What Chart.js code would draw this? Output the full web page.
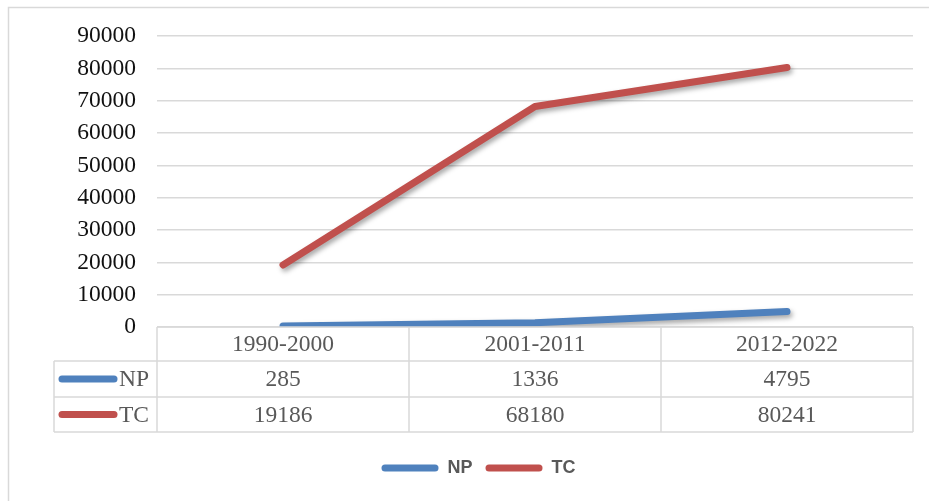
<!DOCTYPE html>
<html>
<head>
<meta charset="utf-8">
<script src="https://cdn.jsdelivr.net/npm/chart.js@4.4.1/dist/chart.umd.min.js"></script>
<style>
  html, body { margin: 0; padding: 0; background: #fff; }
  #wrap { width: 929px; height: 501px; }
</style>
</head>
<body>
<div id="wrap"><canvas id="chart" width="929" height="501"></canvas></div>
<script>
// Data
const periods = ['1990-2000', '2001-2011', '2012-2022'];
const npValues = [285, 1336, 4795];
const tcValues = [19186, 68180, 80241];
const yTicks = [0, 10000, 20000, 30000, 40000, 50000, 60000, 70000, 80000, 90000];

const BLUE = '#4f81bd';
const RED = '#c0504d';
const GRID = '#d9d9d9';
const SERIF = '"Liberation Serif", "Times New Roman", serif';

// Outer frame of the figure
const framePlugin = {
    id: 'frame',
    beforeDraw(chart) {
        const ctx = chart.ctx;
        ctx.save();
        ctx.strokeStyle = GRID;
        ctx.lineWidth = 1.5;
        ctx.strokeRect(8.5, 7.5, 2000, 2000);
        ctx.restore();
    }
};

// Soft drop shadow under the lines
const shadowPlugin = {
    id: 'lineShadow',
    beforeDatasetsDraw(chart) {
        const ctx = chart.ctx;
        ctx.save();
        ctx.shadowColor = 'rgba(0,0,0,0.35)';
        ctx.shadowBlur = 5;
        ctx.shadowOffsetX = 2;
        ctx.shadowOffsetY = 3;
    },
    afterDatasetsDraw(chart) {
        chart.ctx.restore();
    }
};

// Data table under the plot, columns taken from the x scale
const tablePlugin = {
    id: 'dataTable',
    afterDraw(chart) {
        const ctx = chart.ctx;
        const xs = chart.scales.x;
        const area = chart.chartArea;
        const step = xs.getPixelForValue(1) - xs.getPixelForValue(0);
        const left = area.left;
        const right = area.right;
        const labelLeft = 54;
        const rowH = [34, 36, 35];
        const y0 = area.bottom;
        const y1 = y0 + rowH[0];
        const y2 = y1 + rowH[1];
        const y3 = y2 + rowH[2];

        ctx.save();
        ctx.strokeStyle = GRID;
        ctx.lineWidth = 1.5;
        ctx.beginPath();
        ctx.moveTo(left, y0); ctx.lineTo(right, y0);
        [y1, y2, y3].forEach(y => { ctx.moveTo(labelLeft, y); ctx.lineTo(right, y); });
        ctx.moveTo(labelLeft, y1); ctx.lineTo(labelLeft, y3);
        for (let i = 0; i <= periods.length; i++) {
            const x = i < periods.length ? xs.getPixelForValue(i) - step / 2 : right;
            ctx.moveTo(x, y0); ctx.lineTo(x, y3);
        }
        ctx.stroke();

        ctx.fillStyle = '#595959';
        ctx.font = '23.5px ' + SERIF;
        ctx.textAlign = 'center';
        ctx.textBaseline = 'middle';
        periods.forEach((p, i) => {
            const x = xs.getPixelForValue(i);
            ctx.fillText(p, x, (y0 + y1) / 2 + 1);
            ctx.fillText(String(npValues[i]), x, (y1 + y2) / 2 + 1);
            ctx.fillText(String(tcValues[i]), x, (y2 + y3) / 2 + 1);
        });

        const rows = [
            { name: 'NP', color: BLUE, y: (y1 + y2) / 2 },
            { name: 'TC', color: RED, y: (y2 + y3) / 2 }
        ];
        rows.forEach(r => {
            ctx.strokeStyle = r.color;
            ctx.lineWidth = 7;
            ctx.lineCap = 'round';
            ctx.beginPath();
            ctx.moveTo(62, r.y); ctx.lineTo(114, r.y);
            ctx.stroke();
            ctx.textAlign = 'left';
            ctx.fillText(r.name, 119, r.y + 1);
        });
        ctx.restore();
    }
};

new Chart(document.getElementById('chart'), {
    type: 'line',
    data: {
        labels: periods,
        datasets: [
            { label: 'NP', data: npValues, borderColor: BLUE, backgroundColor: BLUE },
            { label: 'TC', data: tcValues, borderColor: RED, backgroundColor: RED }
        ]
    },
    options: {
        responsive: false,
        animation: false,
        layout: { padding: { left: 44, right: 16, top: 36, bottom: 14 } },
        elements: {
            line: { borderWidth: 7, tension: 0, borderCapStyle: 'round', borderJoinStyle: 'round' },
            point: { radius: 0, hoverRadius: 0 }
        },
        plugins: {
            tooltip: { enabled: false },
            legend: {
                position: 'bottom',
                labels: {
                    color: '#595959',
                    font: { family: '"Liberation Sans", Arial, sans-serif', size: 18, weight: 'bold' },
                    boxWidth: 57,
                    boxHeight: 7,
                    padding: 13,
                    useBorderRadius: true,
                    borderRadius: 3.5,
                    generateLabels(chart) {
                        return Chart.defaults.plugins.legend.labels.generateLabels(chart).map(l => {
                            l.lineWidth = 0;
                            return l;
                        });
                    }
                }
            }
        },
        scales: {
            x: {
                type: 'category',
                offset: true,
                grid: { display: false },
                border: { display: false },
                ticks: { display: false },
                afterFit(scale) { scale.height = 119; }
            },
            y: {
                min: 0,
                max: 90000,
                afterBuildTicks(scale) { scale.ticks = yTicks.map(v => ({ value: v })); },
                afterFit(scale) { scale.width = 113; },
                grid: { color: GRID, lineWidth: 1.5, drawTicks: false },
                border: { display: false },
                ticks: {
                    padding: 21,
                    color: '#111',
                    font: { family: SERIF, size: 23.5 },
                    callback: v => String(v)
                }
            }
        }
    },
    plugins: [framePlugin, shadowPlugin, tablePlugin]
});
</script>
</body>
</html>
